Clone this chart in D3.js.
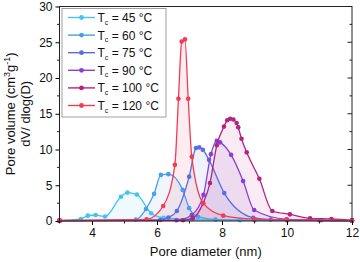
<!DOCTYPE html>
<html>
<head>
<meta charset="utf-8">
<script src="https://cdn.jsdelivr.net/npm/d3@7"></script>
<style>
  body { margin: 0; background: #fff; }
  svg { display: block; font-family: "Liberation Sans", Arial, sans-serif; }
</style>
</head>
<body>
<svg width="360" height="262"></svg>
<script>
// series: temperature labels, colours and [diameter, dV/dlog(D)] points
const temps = ["45", "60", "75", "90", "100", "120"];
const colors = ["#45c3ef", "#4c9ee8", "#5a6ce0", "#8a3ed6", "#b0267e", "#f23b54"];

const s45 = [[3, 0.05], [3.66, 0.28], [3.87, 0.75], [4.11, 0.84], [4.40, 0.62], [4.89, 3.4], [5.09, 3.97],
  [5.38, 3.7], [5.82, 1.08], [6.2, 0.45], [7.07, 0.24], [8.55, 0.12], [10.0, 0.08], [12, 0.05]];
const s60 = [[3, 0.05], [5.35, 0.2], [5.66, 1.68], [5.91, 3.8], [6.12, 6.45], [6.35, 6.55], [6.79, 4.35],
  [6.99, 1.8], [7.26, 0.6], [7.8, 0.2], [9, 0.1], [11.07, 0.1], [12, 0.05]];
const s75 = [[3, 0.05], [6.1, 0.15], [6.35, 0.5], [6.61, 1.4], [6.99, 6.2], [7.2, 10.2], [7.3, 10.3],
  [7.41, 9.96], [7.6, 8.55], [8.07, 3.9], [8.96, 0.46], [9.5, 0.2], [12, 0.05]];
const s90 = [[3, 0.05], [6.6, 0.1], [7.07, 0.84], [7.43, 3.65], [7.66, 9.35], [7.84, 11.2], [7.94, 11.0],
  [8.28, 9.25], [8.65, 5.6], [8.99, 1.54], [9.99, 0.24], [11, 0.1], [12, 0.05]];
const s100 = [[3, 0.05], [6.8, 0.1], [7.1, 0.4], [7.42, 2.5], [7.63, 5.3], [7.84, 10.6], [8.06, 13.2],
  [8.16, 14.1], [8.25, 14.3], [8.35, 14.2], [8.45, 13.7], [8.5, 13.1], [8.6, 11.5], [8.76, 9.6],
  [9.15, 5.9], [9.55, 1.4], [10.09, 0.93], [10.71, 0.38], [11.37, 0.28], [12, 0.1]];
const s120 = [[3, 0.1], [5.68, 0.24], [6.19, 2.1], [6.55, 7.85], [6.66, 17.1], [6.76, 25.1], [6.86, 25.4],
  [6.96, 17.1], [7.07, 9.0], [7.42, 2.5], [8.04, 0.75], [9, 0.25], [10, 0.15], [12, 0.1]];

const xTicks = [4, 6, 8, 10, 12];
const yTicks = [0, 5, 10, 15, 20, 25, 30];

const series = [s45, s60, s75, s90, s100, s120];

const svg = d3.select("svg");
const m = { left: 59.5, right: 352, top: 6.5, bottom: 221 };

const x = d3.scaleLinear().domain([3, 12]).range([m.left, m.right]);
const y = d3.scaleLinear().domain([0, 30]).range([m.bottom, m.top]);

const line = d3.line().x(d => x(d[0])).y(d => y(d[1])).curve(d3.curveMonotoneX);
const area = d3.area().x(d => x(d[0])).y0(y(0)).y1(d => y(d[1])).curve(d3.curveMonotoneX);

// fills first, then lines and markers
const gData = svg.append("g");
series.forEach((s, i) => {
  gData.append("path").datum(s).attr("d", area)
    .attr("fill", colors[i]).attr("fill-opacity", 0.09);
});
series.forEach((s, i) => {
  gData.append("path").datum(s).attr("d", line)
    .attr("fill", "none").attr("stroke", colors[i]).attr("stroke-width", 1.3);
  gData.selectAll(null).data(s).enter().append("circle")
    .attr("cx", d => x(d[0])).attr("cy", d => y(d[1])).attr("r", 2.3)
    .attr("fill", colors[i]);
});

// frame
svg.append("rect")
  .attr("x", m.left).attr("y", m.top)
  .attr("width", m.right - m.left).attr("height", m.bottom - m.top)
  .attr("fill", "none").attr("stroke", "#222").attr("stroke-width", 1);

// bottom axis
const xAxis = svg.append("g").attr("transform", `translate(0,${m.bottom})`)
  .call(d3.axisBottom(x).tickValues(xTicks).tickSize(4).tickPadding(3));
xAxis.select(".domain").remove();
xAxis.selectAll("text").attr("font-size", 12).attr("fill", "#111")
  .attr("font-family", "Liberation Sans, Arial, sans-serif");
svg.append("g").attr("transform", `translate(0,${m.bottom})`)
  .selectAll("line").data([3, 5, 7, 9, 11]).enter().append("line")
  .attr("x1", d => x(d)).attr("x2", d => x(d)).attr("y1", 0).attr("y2", 2.5)
  .attr("stroke", "#222");

// left axis
const yAxis = svg.append("g").attr("transform", `translate(${m.left},0)`)
  .call(d3.axisLeft(y).tickValues(yTicks).tickSize(4).tickPadding(3));
yAxis.select(".domain").remove();
yAxis.selectAll("text").attr("font-size", 12).attr("fill", "#111")
  .attr("font-family", "Liberation Sans, Arial, sans-serif");
const yMinor = d3.range(2.5, 30, 5);
svg.append("g").selectAll("line").data(yMinor).enter().append("line")
  .attr("x1", m.left - 2.5).attr("x2", m.left).attr("y1", d => y(d)).attr("y2", d => y(d))
  .attr("stroke", "#222");

// right axis, inward ticks
svg.append("g").selectAll("line").data(d3.range(2.5, 30, 2.5)).enter().append("line")
  .attr("x1", d => m.right - (d % 5 === 0 ? 4.5 : 2.5)).attr("x2", m.right)
  .attr("y1", d => y(d)).attr("y2", d => y(d))
  .attr("stroke", "#222");

// axis titles
svg.append("text").attr("x", (m.left + m.right) / 2).attr("y", 256)
  .attr("text-anchor", "middle").attr("font-size", 13).attr("fill", "#111")
  .text("Pore diameter (nm)");

const yl = svg.append("text").attr("transform", `translate(15,${(m.top + m.bottom) / 2}) rotate(-90)`)
  .attr("text-anchor", "middle").attr("font-size", 13).attr("fill", "#111");
yl.append("tspan").text("Pore volume (cm");
yl.append("tspan").attr("font-size", 9).attr("dy", -5).text("3");
yl.append("tspan").attr("dy", 5).text("g");
yl.append("tspan").attr("font-size", 9).attr("dy", -5).text("-1");
yl.append("tspan").attr("dy", 5).text(")");
svg.append("text").attr("transform", `translate(30,${(m.top + m.bottom) / 2}) rotate(-90)`)
  .attr("text-anchor", "middle").attr("font-size", 13).attr("fill", "#111")
  .text("dV/ dlog(D)");

// legend
const leg = svg.append("g");
leg.append("rect").attr("x", 62).attr("y", 8.5).attr("width", 104).attr("height", 108.5)
  .attr("fill", "#fff").attr("stroke", "#888").attr("stroke-width", 0.8);
temps.forEach((t, i) => {
  const ly = 17.5 + i * 17.6;
  leg.append("line").attr("x1", 68).attr("x2", 95).attr("y1", ly).attr("y2", ly)
    .attr("stroke", colors[i]).attr("stroke-width", 1.4);
  leg.append("circle").attr("cx", 81.5).attr("cy", ly).attr("r", 2.4).attr("fill", colors[i]);
  const tx = leg.append("text").attr("x", 97.5).attr("y", ly + 4.5)
    .attr("font-size", 12).attr("fill", "#111");
  tx.append("tspan").text("T");
  tx.append("tspan").attr("font-size", 7).attr("dy", 2.5).text("c");
  tx.append("tspan").attr("dy", -2.5).text(" = " + t + " \u00B0C");
});
</script>
</body>
</html>
